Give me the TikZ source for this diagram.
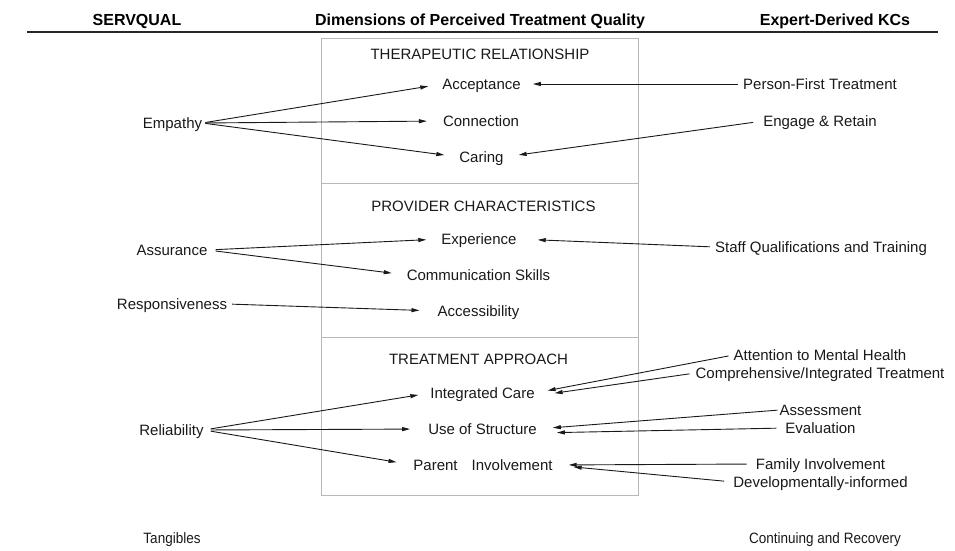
\documentclass[tikz,border=0pt]{standalone}
\usepackage{fontspec}
\setmainfont{Liberation Sans}
\newfontfamily\narrowfont[FakeStretch=0.9]{Liberation Sans}
\usetikzlibrary{arrows.meta}
\begin{document}
\begin{tikzpicture}[x=1pt,y=-1pt,
  lbl/.style={inner sep=0pt, font=\fontsize{15}{18}\selectfont, text=black!90,
              text height=10.7pt, text depth=0pt},
  narrowlbl/.style={lbl, font=\fontsize{15}{18}\selectfont\narrowfont},
  head/.style={inner sep=0pt, font=\fontsize{16}{19}\selectfont\bfseries,
               text height=11.5pt, text depth=0pt},
  link/.style={line width=0.9pt, draw=black!90, -{Triangle[length=8pt,width=4pt]}},
  panel/.style={draw=black!28, line width=0.9pt}]
\useasboundingbox (0,0) rectangle (955,551);

% column headings and rule
\node[head] (servqual) at (137,20) {SERVQUAL};
\node[head] (dims)     at (480,20) {Dimensions of Perceived Treatment Quality};
\node[head] (expert)   at (835,20) {Expert-Derived KCs};
\draw[line width=2pt, black!85] (27,32) -- (938,32);

% central panel with three sections
\draw[panel] (321,38) rectangle (638,495);
\draw[panel] (321,183) -- (638,183);
\draw[panel] (321,337) -- (638,337);

% section: therapeutic relationship
\node[lbl] (therapeutic) at (480,54)    {THERAPEUTIC RELATIONSHIP};
\node[lbl] (acceptance)  at (481.5,84)  {Acceptance};
\node[lbl] (connection)  at (481,121)   {Connection};
\node[lbl] (caring)      at (481.5,157) {Caring};

% section: provider characteristics
\node[lbl] (provider)    at (483.5,206) {PROVIDER CHARACTERISTICS};
\node[lbl] (experience)  at (479,239)   {Experience};
\node[lbl] (commskills)  at (478.5,275) {Communication Skills};
\node[lbl] (access)      at (478.5,311) {Accessibility};

% section: treatment approach
\node[lbl] (treatment)   at (478.5,359) {TREATMENT APPROACH};
\node[lbl] (intcare)     at (482.5,393) {Integrated Care};
\node[lbl] (structure)   at (482.5,429) {Use of Structure};
\node[lbl] (parent)      at (483,465)   {Parent\hspace{14pt}Involvement};

% SERVQUAL dimensions
\node[lbl] (empathy)     at (172.5,123) {Empathy};
\node[lbl] (assurance)   at (172,250)   {Assurance};
\node[lbl] (respons)     at (172,304)   {Responsiveness};
\node[lbl] (reliab)      at (171.5,430) {Reliability};
\node[narrowlbl] (tangibles) at (172,538) {Tangibles};

% expert-derived key components
\node[lbl] (personfirst) at (820,84)    {Person-First Treatment};
\node[lbl] (engage)      at (820,121)   {Engage \& Retain};
\node[lbl] (staff)       at (821,247)   {Staff Qualifications and Training};
\node[lbl] (mental)      at (820,355)   {Attention to Mental Health};
\node[lbl] (comprehens)  at (820,373)   {Comprehensive/Integrated Treatment};
\node[lbl] (assessment)  at (820.5,410) {Assessment};
\node[lbl] (evaluation)  at (820.5,428) {Evaluation};
\node[lbl] (family)      at (820.5,464) {Family Involvement};
\node[lbl] (develop)     at (820.5,482) {Developmentally-informed};
\node[narrowlbl] (continuing) at (825,538) {Continuing and Recovery};

% links from SERVQUAL
\draw[link, shorten <=3pt, shorten >=14pt] (empathy.east) -- (acceptance.west);
\draw[link, shorten <=3pt, shorten >=16pt] (empathy.east) -- (connection.west);
\draw[link, shorten <=3pt, shorten >=15pt] (empathy.east) -- (caring.west);
\draw[link, shorten <=8pt, shorten >=15pt] (assurance.east) -- (experience.west);
\draw[link, shorten <=8pt, shorten >=15pt] (assurance.east) -- (commskills.west);
\draw[link, shorten <=5pt, shorten >=18pt] (respons.east) -- (access.west);
\draw[link, shorten <=7pt, shorten >=12pt] (reliab.east) -- (intcare.west);
\draw[link, shorten <=7pt, shorten >=18pt] (reliab.east) -- (structure.west);
\draw[link, shorten <=7pt, shorten >=17pt] (reliab.east) -- (parent.west);

% links from expert-derived components
\draw[link, shorten <=5pt, shorten >=12pt] (personfirst.west) -- (acceptance.east);
\draw[link, shorten <=10pt, shorten >=15pt] (engage.west) -- (caring.east);
\draw[link, shorten <=5pt, shorten >=21pt] (staff.west) -- (experience.east);
\draw[link, shorten <=5pt, shorten >=13pt] (mental.west) -- (intcare.east);
\draw[link, shorten <=6pt, shorten >=20pt] (comprehens.west) -- ([yshift=-3pt]intcare.east);
\draw[link, shorten <=2pt, shorten >=16pt] (assessment.west) -- (structure.east);
\draw[link, shorten <=9pt, shorten >=20pt] (evaluation.west) -- ([yshift=-4pt]structure.east);
\draw[link, shorten <=9pt, shorten >=16pt] (family.west) -- (parent.east);
\draw[link, shorten <=9pt, shorten >=21pt] (develop.west) -- (parent.east);
\end{tikzpicture}
\end{document}
